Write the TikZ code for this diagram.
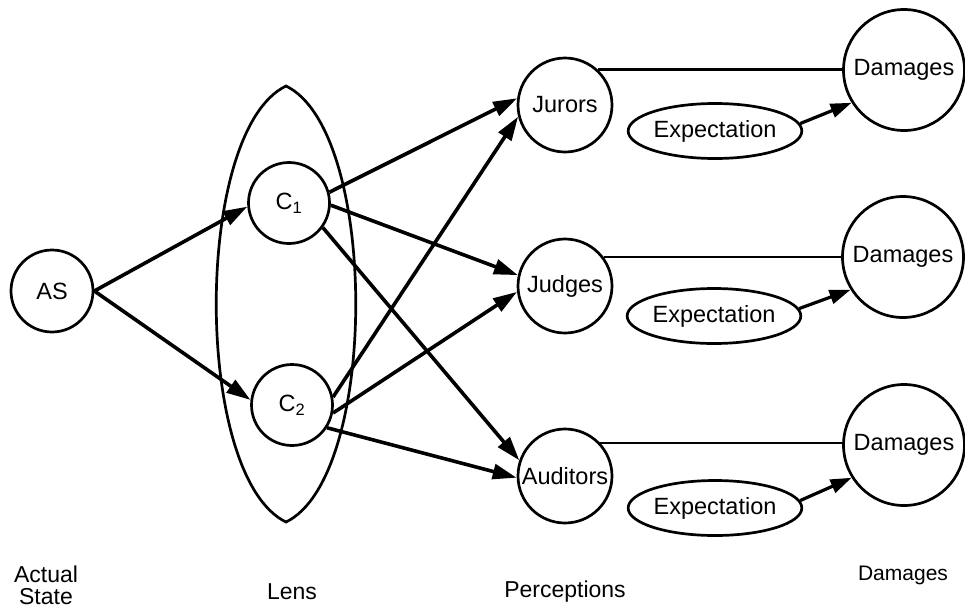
\documentclass[tikz,border=0pt]{standalone}
\usepackage{fontspec}
\setmainfont{Liberation Sans}
\usetikzlibrary{arrows.meta,shapes.geometric}
\begin{document}
\begin{tikzpicture}[x=1pt,y=-1pt,
  every node/.style={font=\fontsize{23.5}{28}\selectfont},
  circ/.style={circle, draw, line width=2.7pt, fill=white, inner sep=0pt},
  pnode/.style={circ, minimum size=94pt},
  dnode/.style={circ, minimum size=121pt},
  cnode/.style={circ, minimum size=81pt},
  expn/.style={ellipse, draw, line width=2.7pt, fill=white, inner sep=0pt,
               minimum width=173pt, minimum height=55pt},
  arr/.style={line width=3.6pt, -{Triangle[length=24pt,width=15pt]}},
  earr/.style={line width=3.2pt, -{Triangle[length=21pt,width=14pt]}},
  hline/.style={line width=2.4pt},
  lensline/.style={line width=2.7pt, line join=miter},
  lbl/.style={align=center, font=\fontsize{23}{22}\selectfont}]
\useasboundingbox (0,0) rectangle (965,608);
% lens
\coordinate (lt) at (286,86);
\coordinate (lb) at (286,522);
\draw[lensline] (lt) .. controls (193,131) and (193,477) .. (lb)
                     .. controls (379,477) and (379,131) .. (lt) -- cycle;
% nodes
\node[circ, minimum size=82pt] (AS) at (52,291) {AS};
\node[cnode] (C1) at (289,203) {C\textsubscript{1}};
\node[cnode] (C2) at (292,405) {C\textsubscript{2}};
\node[pnode] (J)  at (565,105) {Jurors};
\node[pnode] (Jd) at (565,286) {Judges};
\node[pnode] (A)  at (565,476) {Auditors};
\node[dnode] (D1) at (904,70)  {Damages};
\node[dnode] (D2) at (903,257) {Damages};
\node[dnode] (D3) at (904,445) {Damages};
\node[expn] (E1) at (715,131) {Expectation};
\node[expn] (E2) at (714,316) {Expectation};
\node[expn] (E3) at (715,508) {Expectation};
% connectors
\draw[arr] (AS.east) -- (C1.185);
\draw[arr] (AS.east) -- (C2.173);
\draw[arr] (C1.15)  -- (J.172);
\draw[arr] (C1.-3)  -- (Jd.167);
\draw[arr] (C1.-36) -- (A.161);
\draw[arr] (C2.11)  -- (J.194);
\draw[arr] (C2.-11) -- (Jd.187);
\draw[arr] (C2.-33) -- (A.182);
\draw[hline] (J.47)  -- (J.47 -| D1.west);
\draw[hline] (Jd.37) -- (Jd.37 -| D2.west);
\draw[hline] (A.43)  -- (A.43 -| D3.west);
\draw[earr] (E1.5) -- (D1.212);
\draw[earr] (E2.5) -- (D2.212);
\draw[earr] (E3.5) -- (D3.212);
% bottom labels
\node[lbl] (lAS) at (46,585) {Actual\\State};
\node[lbl] (lL)  at (292,592) {Lens};
\node[lbl] (lP)  at (565,592) {Perceptions};
\node[lbl, font=\fontsize{21}{22}\selectfont] (lD) at (903,575) {Damages};
\end{tikzpicture}
\end{document}
